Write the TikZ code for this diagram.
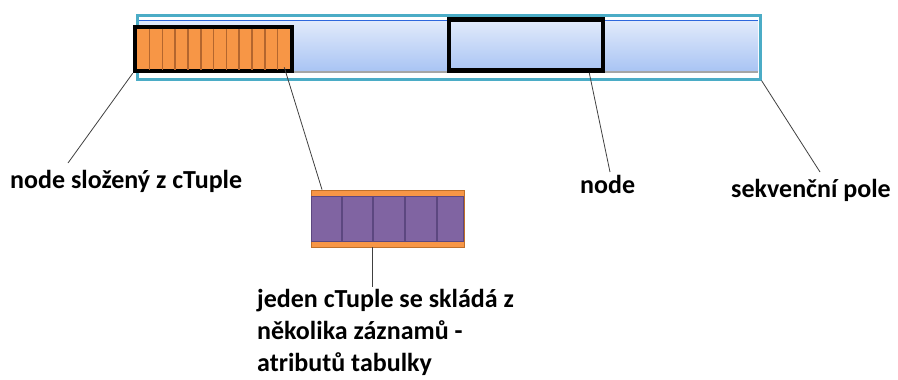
\documentclass[tikz,border=0pt]{standalone}
\usepackage{fontspec}
\setmainfont{Carlito}
\definecolor{poleteal}{HTML}{4BACC6}
\definecolor{poletop}{HTML}{E2EBFB}
\definecolor{polebot}{HTML}{A9C4F4}
\definecolor{ctorange}{HTML}{F79646}
\definecolor{ctstripe}{HTML}{B4662E}
\definecolor{ctpurple}{HTML}{8064A2}
\definecolor{ctpurpledk}{HTML}{5C4780}
\definecolor{ctedge}{HTML}{C0702A}
\begin{document}
\begin{tikzpicture}[x=1pt,y=-1pt,
	popis/.style={font=\bfseries\fontsize{26}{32}\selectfont, anchor=west, align=left, inner sep=0pt},
	ukaz/.style={draw=black!75, line width=0.8pt},
	ramec/.style={draw=black, line width=4.5pt, inner sep=0pt}]
	\useasboundingbox (0,0) rectangle (898,380);
	
	%Shape: sekvencni pole (teal frame + shaded band)
	\node (pole) [draw=poleteal, line width=3pt, minimum width=623, minimum height=64, inner sep=0pt] at (448.5,47) {};
	\shade [top color=poletop, bottom color=polebot] (139,20) rectangle (758,71);
	\draw [draw=poleteal!60!blue, line width=0.6pt] (139,20) -- (758,20);
	\draw [draw=gray!70, line width=1.2pt] (139,72) -- (758,72);
	
	%Shape: node slozeny z cTuple
	\node (tuples) [ramec, fill=ctorange, minimum width=157, minimum height=44] at (213.5,49) {};
	\foreach \x in {149.5,162.3,...,280} {
		\draw [ctstripe, line width=1.6pt] (\x,28.5) -- (\x,69.5);
	}
	
	%Shape: node
	\node (uzel) [ramec, minimum width=154, minimum height=51] at (526,45) {};
	
	%Shape: jeden cTuple
	\node (ctuple) [draw=ctedge, fill=ctorange, line width=0.8pt, minimum width=153, minimum height=57, inner sep=0pt] at (387.5,218.5) {};
	\draw [draw=ctpurpledk, fill=ctpurple, line width=1.6pt] (311.5,196.5) rectangle (463.5,241.5);
	\foreach \x in {342,373,405,437} {
		\draw [ctpurpledk, line width=1.6pt] (\x,196.5) -- (\x,241.5);
	}
	
	% Text Nodes
	\node (lbltuples) [popis] at (10,181) {node složený z cTuple};
	\node (lbluzel) [popis] at (580,184) {node};
	\node (lblpole) [popis] at (731,190) {sekvenční pole};
	\node (lblctuple) [popis, anchor=north west] at (257,289) {jeden cTuple se skládá z\\několika záznamů -\\atributů tabulky};
	
	%Straight Lines
	\coordinate (k1) at (68,163);
	\coordinate (k3) at (610,172);
	\coordinate (k4) at (820,172);
	\coordinate (k5) at (372,287);
	\draw [ukaz] (tuples.south west) -- (k1);
	\draw [ukaz] ([xshift=-10pt,yshift=6pt]tuples.south east) -- (ctuple.north -| 322,0);
	\draw [ukaz] ([xshift=-16pt]uzel.south east) -- (k3);
	\draw [ukaz] (pole.south east) -- (k4);
	\draw [ukaz] (ctuple.south -| 372,0) -- (k5);
\end{tikzpicture}
\end{document}
